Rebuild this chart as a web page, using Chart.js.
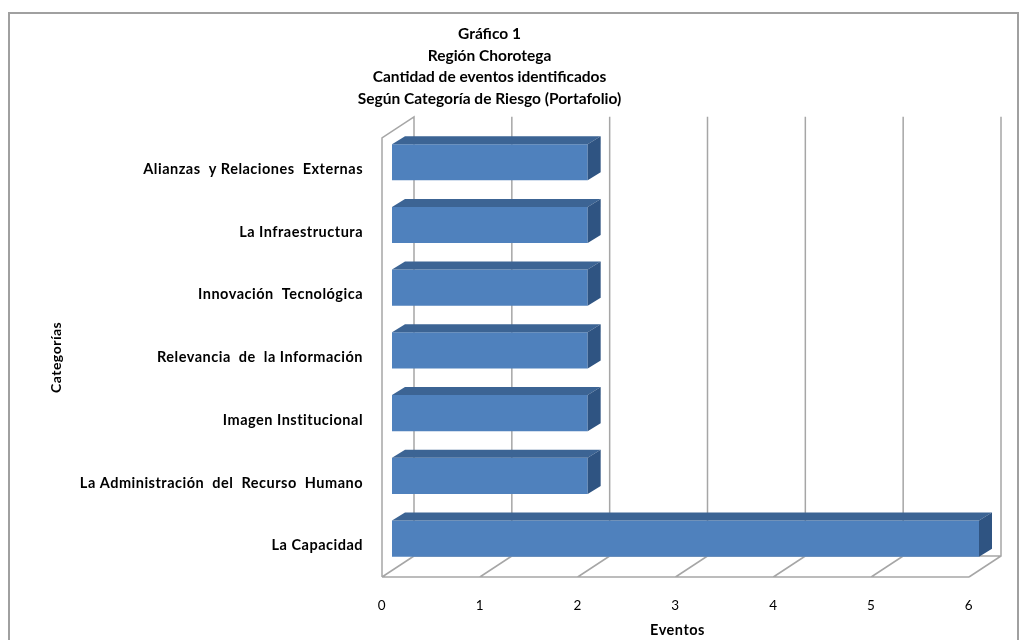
<!DOCTYPE html>
<html>
<head>
<meta charset="utf-8">
<script src="https://cdn.jsdelivr.net/npm/chart.js@4.4.1/dist/chart.umd.min.js"></script>
<style>
  html, body { margin: 0; padding: 0; background: #ffffff; }
  #wrap { width: 1022px; height: 640px; position: relative; }
</style>
</head>
<body>
<div id="wrap"><canvas id="c" width="1022" height="640"></canvas></div>
<script>
const titleLines = ['Gráfico 1', 'Región Chorotega', 'Cantidad de eventos identificados', 'Según Categoría de Riesgo (Portafolio)'];
const categories = [
  'Alianzas  y Relaciones  Externas',
  'La Infraestructura',
  'Innovación  Tecnológica',
  'Relevancia  de  la Información',
  'Imagen Institucional',
  'La Administración  del  Recurso  Humano',
  'La Capacidad'
];
const eventos = [2, 2, 2, 2, 2, 2, 6];
const xTicks = [0, 1, 2, 3, 4, 5, 6];
const xTitle = 'Eventos';
const yTitle = 'Categorías';

const FONT = "Lato, 'Open Sans', sans-serif";
const GRID = '#a6a6a6';
const FRONT = { dx: -10, dy: 7 };   // front plane relative to bar front faces
const BACK = { dx: 22, dy: -14 };   // back plane relative to bar front faces
const BARD = { dx: 13, dy: -8 };    // bar depth

// wrap a scale's text drawing to use letter spacing and a small shift
function styleScaleText(scale, spacing, titleShift) {
  if (scale._styled) return;
  scale._styled = true;
  const origLabels = scale.drawLabels;
  const origTitle = scale.drawTitle;
  scale.drawLabels = function (ca) {
    const ctx = this.ctx;
    ctx.save();
    ctx.letterSpacing = spacing;
    origLabels.call(this, ca);
    ctx.restore();
  };
  scale.drawTitle = function (ca) {
    const ctx = this.ctx;
    ctx.save();
    ctx.letterSpacing = spacing;
    ctx.translate(titleShift[0], titleShift[1]);
    origTitle.call(this, ca);
    ctx.restore();
  };
}

const threeD = {
  id: 'threeD',
  beforeDraw(chart) {
    const ctx = chart.ctx;
    ctx.save();
    ctx.fillStyle = '#ffffff';
    ctx.fillRect(0, 0, chart.width, chart.height);
    ctx.strokeStyle = '#a0a0a0';
    ctx.lineWidth = 2;
    ctx.strokeRect(9, 13, 1009, 640);
    ctx.restore();
  },
  beforeDatasetsDraw(chart) {
    const { ctx, chartArea: ca, scales: { x } } = chart;
    const fl = ca.left + FRONT.dx, fb = ca.bottom + FRONT.dy, ft = ca.top + FRONT.dy;
    const bl = ca.left + BACK.dx, bb = ca.bottom + BACK.dy, bt = ca.top + BACK.dy;
    const ddx = BACK.dx - FRONT.dx, ddy = BACK.dy - FRONT.dy;
    ctx.save();
    ctx.strokeStyle = GRID;
    ctx.lineWidth = 1.5;
    ctx.beginPath();
    ctx.moveTo(fl, fb); ctx.lineTo(fl, ft); ctx.lineTo(bl, bt); ctx.lineTo(bl, bb);
    const xMax = x.getPixelForValue(x.max) + FRONT.dx;
    ctx.moveTo(fl, fb); ctx.lineTo(xMax, fb);
    ctx.moveTo(bl, bb); ctx.lineTo(xMax + ddx, bb);
    x.ticks.forEach(t => {
      const xf = x.getPixelForValue(t.value) + FRONT.dx;
      ctx.moveTo(xf, fb);
      ctx.lineTo(xf + ddx, fb + ddy);
      if (t.value > x.min) ctx.lineTo(xf + ddx, bt);
    });
    ctx.stroke();
    ctx.restore();
  },
  afterDatasetsDraw(chart) {
    const ctx = chart.ctx;
    const meta = chart.getDatasetMeta(0);
    ctx.save();
    meta.data.forEach(bar => {
      const p = bar.getProps(['x', 'y', 'base', 'height'], true);
      const x0 = Math.min(p.base, p.x), x1 = Math.max(p.base, p.x);
      const yt = p.y - p.height / 2, yb = p.y + p.height / 2;
      ctx.fillStyle = '#3c6494';
      ctx.beginPath();
      ctx.moveTo(x0, yt); ctx.lineTo(x0 + BARD.dx, yt + BARD.dy);
      ctx.lineTo(x1 + BARD.dx, yt + BARD.dy); ctx.lineTo(x1, yt);
      ctx.closePath(); ctx.fill();
      ctx.fillStyle = '#2f5482';
      ctx.beginPath();
      ctx.moveTo(x1, yt); ctx.lineTo(x1 + BARD.dx, yt + BARD.dy);
      ctx.lineTo(x1 + BARD.dx, yb + BARD.dy); ctx.lineTo(x1, yb);
      ctx.closePath(); ctx.fill();
    });
    ctx.restore();
  }
};

new Chart(document.getElementById('c'), {
  type: 'bar',
  data: {
    labels: categories,
    datasets: [{
      label: xTitle,
      data: eventos,
      backgroundColor: '#4f81bd',
      borderWidth: 0,
      categoryPercentage: 1,
      barPercentage: 0.575
    }]
  },
  options: {
    indexAxis: 'y',
    responsive: false,
    animation: false,
    layout: { padding: { left: 0, right: 43, top: 0, bottom: 0 } },
    plugins: {
      legend: { display: false },
      tooltip: { enabled: false },
      title: {
        display: true,
        text: titleLines,
        color: '#000000',
        font: { family: FONT, size: 15.5, weight: 'bold', lineHeight: 1.4 },
        padding: { top: 23, bottom: 21 }
      }
    },
    scales: {
      x: {
        type: 'linear',
        min: 0, max: 6,
        afterBuildTicks(scale) { scale.ticks = xTicks.map(v => ({ value: v })); },
        afterFit(scale) { scale.height = 70; styleScaleText(scale, '0.5px', [-8, 0]); },
        grid: { display: false },
        border: { display: false },
        ticks: {
          color: '#000000',
          font: { family: FONT, size: 13.5 },
          padding: 20,
          labelOffset: FRONT.dx,
          maxRotation: 0
        },
        title: {
          display: true, text: xTitle, color: '#000000',
          font: { family: FONT, size: 14.5, weight: 'bold' },
          padding: { top: 1, bottom: 1 }
        }
      },
      y: {
        type: 'category',
        afterFit(scale) { scale.width = 392; styleScaleText(scale, '0.5px', [0, 7]); },
        grid: { display: false },
        border: { display: false },
        ticks: {
          color: '#000000',
          font: { family: FONT, size: 14.5, weight: 'bold' },
          padding: 21,
          labelOffset: FRONT.dy
        },
        title: {
          display: true, text: yTitle, color: '#000000',
          font: { family: FONT, size: 14, weight: 'bold' },
          padding: { top: 48, bottom: 0 }
        }
      }
    }
  },
  plugins: [threeD]
});
</script>
</body>
</html>
